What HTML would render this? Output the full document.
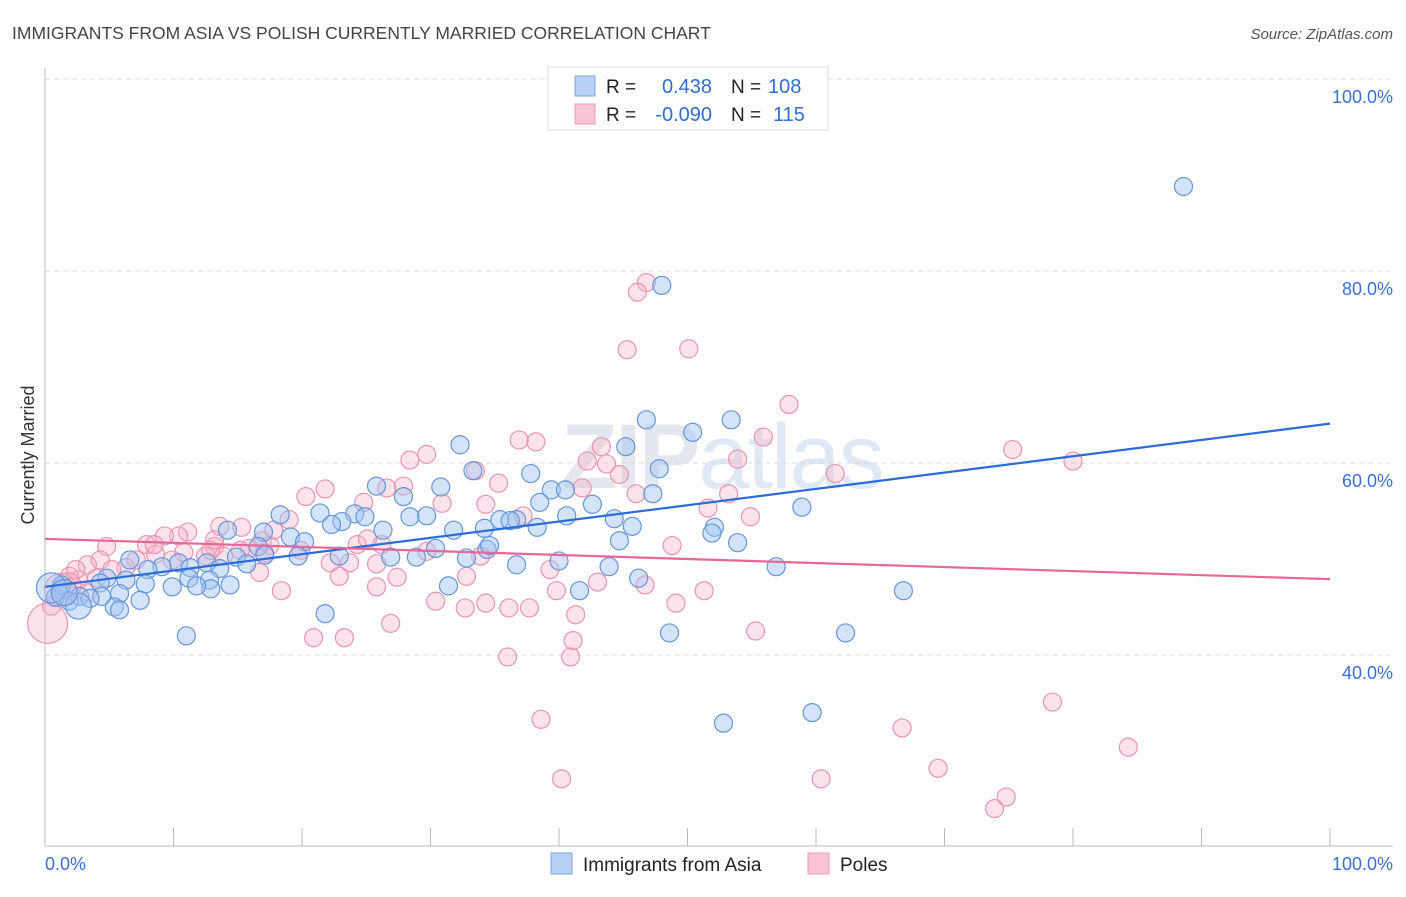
<!DOCTYPE html>
<html><head><meta charset="utf-8"><style>
body{margin:0;background:#fff;font-family:"Liberation Sans",sans-serif;}
svg text{font-family:"Liberation Sans",sans-serif;}
</style></head><body>
<svg id="chart" width="1406" height="892" xmlns="http://www.w3.org/2000/svg">
<text x="12" y="39" font-size="17.5" fill="#444">IMMIGRANTS FROM ASIA VS POLISH CURRENTLY MARRIED CORRELATION CHART</text>
<text x="1393" y="39" font-size="15" fill="#555" font-style="italic" text-anchor="end">Source: ZipAtlas.com</text>
<text x="722" y="488" font-size="92" fill="#e4e8ee" text-anchor="middle" font-weight="bold" letter-spacing="-2">ZIP<tspan font-weight="normal" fill="#dfe8f5">atlas</tspan></text>
<text transform="translate(34,455) rotate(-90)" font-size="18" fill="#333" text-anchor="middle">Currently Married</text>
<g id="grid"></g><g id="axes"></g><g id="marks"></g><g id="lines"></g>
<g>
<rect x="548" y="67" width="280" height="63" fill="#fff" stroke="#ddd"/>
<rect x="575" y="76" width="20" height="20" fill="#b7d0f3" stroke="#7aa6e3"/>
<rect x="575" y="104" width="20" height="20" fill="#f9c5d4" stroke="#ec9ab3"/>
<text x="606" y="93" font-size="19" fill="#222">R =</text>
<text x="712" y="93" font-size="20" fill="#2f6fd4" text-anchor="end">0.438</text>
<text x="731" y="93" font-size="19" fill="#222">N =</text>
<text x="768" y="93" font-size="20" fill="#2f6fd4">108</text>
<text x="606" y="121" font-size="19" fill="#222">R =</text>
<text x="712" y="121" font-size="20" fill="#2f6fd4" text-anchor="end">-0.090</text>
<text x="731" y="121" font-size="19" fill="#222">N =</text>
<text x="773" y="121" font-size="20" fill="#2f6fd4">115</text>
</g>
<g>
<rect x="551" y="853" width="21" height="21" fill="#b7d0f3" stroke="#7aa6e3"/>
<text x="583" y="871" font-size="19" fill="#222">Immigrants from Asia</text>
<rect x="808" y="853" width="21" height="21" fill="#f9c5d4" stroke="#ec9ab3"/>
<text x="840" y="871" font-size="19" fill="#222">Poles</text>
</g>
</svg>
<script>
const blueX=[88.6,48.0,46.8,53.4,32.3,50.4,45.2,47.8,37.8,25.8,30.8,33.3,39.4,40.5,47.3,42.6,27.9,58.9,18.3,21.4,24.1,23.1,22.3,24.9,28.4,29.7,36.7,35.4,36.2,34.2,40.6,44.3,45.7,52.1,51.9,38.5,31.8,38.3,26.3,14.2,17.0,19.1,20.2,16.6,14.9,17.1,19.7,22.9,26.9,28.9,30.4,32.8,34.4,34.6,44.7,53.9,6.6,10.4,12.6,15.7,9.1,11.3,13.6,8.0,36.7,40.0,43.9,56.9,4.8,6.3,11.2,12.8,14.4,4.3,7.8,9.9,12.9,11.8,5.8,4.4,2.7,1.2,0.8,1.9,3.5,5.4,7.4,31.4,41.6,46.2,66.8,21.8,11.0,48.6,62.3,52.8,59.7,1.3,5.8];
const blueY=[88.8,78.5,64.5,64.5,61.9,63.2,61.7,59.4,58.9,57.6,57.5,59.2,57.2,57.2,56.8,55.7,56.5,55.4,54.6,54.8,54.7,53.9,53.6,54.4,54.4,54.5,54.1,54.1,54.0,53.2,54.5,54.2,53.4,53.3,52.7,55.9,53.0,53.3,53.0,53.0,52.8,52.3,51.8,51.3,50.2,50.4,50.3,50.3,50.2,50.2,51.1,50.1,51.0,51.4,51.9,51.7,49.9,49.6,49.6,49.5,49.2,49.1,49.0,48.9,49.4,49.8,49.2,49.2,48.0,47.8,48.0,47.8,47.3,47.5,47.4,47.1,46.9,47.2,46.4,46.1,46.1,46.8,46.0,45.6,45.9,45.0,45.7,47.2,46.7,48.0,46.7,44.3,42.0,42.3,42.3,32.9,34.0,47.3,44.7];
const pinkX=[46.8,46.1,45.3,50.1,57.9,75.3,80.0,55.9,36.9,38.2,43.3,53.9,42.2,43.7,29.7,28.4,33.5,35.3,46.0,53.2,21.8,26.6,27.9,20.3,24.8,30.9,34.3,37.2,41.8,44.7,51.6,54.9,61.5,15.3,17.8,19.0,13.6,11.1,10.4,9.3,7.9,7.1,4.8,4.3,16.9,17.5,15.9,13.2,10.8,8.6,19.9,26.2,29.7,24.3,33.9,25.1,13.9,12.5,9.9,12.9,48.8,6.3,5.2,4.0,3.3,2.6,0.5,1.9,3.3,2.4,22.2,23.7,25.8,27.4,18.4,39.3,43.0,46.7,49.1,51.3,39.8,32.8,22.9,25.8,32.7,30.4,36.1,37.7,34.3,41.1,41.3,26.9,20.9,23.3,55.3,36.0,40.9,78.4,38.6,66.7,84.3,40.2,60.4,69.5,74.8,73.9,16.7,15.2,13.2,8.5,17.1];
const pinkY=[78.8,77.8,71.8,71.9,66.1,61.4,60.2,62.7,62.4,62.2,61.7,60.4,60.2,59.9,60.9,60.3,59.2,57.9,56.8,56.8,57.3,57.4,57.6,56.5,55.9,55.8,55.7,54.5,57.4,58.8,55.3,54.4,58.9,53.3,53.0,54.1,53.4,52.8,52.4,52.4,51.5,49.9,51.3,49.9,51.9,51.4,51.1,51.3,50.7,50.5,50.9,51.5,50.8,51.5,50.3,52.1,50.3,50.3,49.9,50.9,51.4,49.1,48.9,48.0,49.4,47.8,45.1,48.2,46.5,48.9,49.6,49.6,49.5,48.1,46.7,48.9,47.6,47.3,45.4,46.7,46.7,48.2,48.2,47.1,44.9,45.6,44.9,44.9,45.4,41.5,44.2,43.3,41.8,41.8,42.5,39.8,39.8,35.1,33.3,32.4,30.4,27.1,27.1,28.2,25.2,24.0,48.6,50.9,52.0,51.5,50.6];
const bigBlueX=[0.5,2.6,1.5], bigBlueY=[47.0,45.1,46.5], bigBlueR=[15,13,13];
const bigPinkX=[0.2,1.2,1.8], bigPinkY=[43.3,46.8,47.2], bigPinkR=[20,16,13];
const trendX=[0,100];
const blueTrendY=[47.1,64.1];
const pinkTrendY=[52.1,47.9];
const yTicks=[40,60,80,100];
const yTickLabels=["40.0%","60.0%","80.0%","100.0%"];
const xTickVals=[0,10,20,30,40,50,60,70,80,90,100];

const NS="http://www.w3.org/2000/svg";
const X0=45,X1=1330,YTOP=79,YBOT=847;
const sx=v=>X0+(X1-X0)*v/100;
const sy=v=>YBOT-(YBOT-YTOP)*(v-20)/80;
function mk(tag,attrs,parent){const e=document.createElementNS(NS,tag);for(const k in attrs)e.setAttribute(k,attrs[k]);parent.appendChild(e);return e;}
const grid=document.getElementById('grid'),axes=document.getElementById('axes'),marks=document.getElementById('marks'),lines=document.getElementById('lines');
yTicks.forEach((t,i)=>{
  const l=mk('line',{x1:X0,x2:1393,y1:sy(t),y2:sy(t),stroke:'#d8d8d8','stroke-dasharray':'5,4'},grid);
  
  
  const tx=mk('text',{x:1393,y:sy(t)+24,'font-size':18,fill:'#3b6fd6','text-anchor':'end'},grid);
  tx.textContent=yTickLabels[i];
  
  
});
const ya=mk('line',{x1:X0,x2:X0,y1:68,y2:846,stroke:'#bbb'},axes);


const xa=mk('line',{x1:X0,x2:1393,y1:846,y2:846,stroke:'#bbb'},axes);


xTickVals.forEach(v=>{
  const t=mk('line',{x1:sx(v),x2:sx(v),y1:828,y2:846,stroke:'#bbb'},axes);
  
  
});
const xl0=mk('text',{x:X0,y:870,'font-size':18,fill:'#3b6fd6'},axes);xl0.textContent='0.0%';


const xl1=mk('text',{x:1393,y:870,'font-size':18,fill:'#3b6fd6','text-anchor':'end'},axes);xl1.textContent='100.0%';


function dot(x,y,r,blue){
  const c=mk('circle',{cx:sx(x),cy:sy(y),r:r,fill:blue?'rgba(160,195,240,0.45)':'rgba(246,175,198,0.35)',stroke:blue?'#6495dc':'#eb94b0','stroke-width':1.2},marks);
  
  
}
pinkX.forEach((x,i)=>dot(x,pinkY[i],9,false));
bigPinkX.forEach((x,i)=>dot(x,bigPinkY[i],bigPinkR[i],false));
blueX.forEach((x,i)=>dot(x,blueY[i],9,true));
bigBlueX.forEach((x,i)=>dot(x,bigBlueY[i],bigBlueR[i],true));
const bl=mk('line',{x1:sx(trendX[0]),x2:sx(trendX[1]),y1:sy(blueTrendY[0]),y2:sy(blueTrendY[1]),stroke:'#2b6dd8','stroke-width':2.2},lines);


const pl=mk('line',{x1:sx(trendX[0]),x2:sx(trendX[1]),y1:sy(pinkTrendY[0]),y2:sy(pinkTrendY[1]),stroke:'#e6679a','stroke-width':2.2},lines);


</script>
</body></html>
